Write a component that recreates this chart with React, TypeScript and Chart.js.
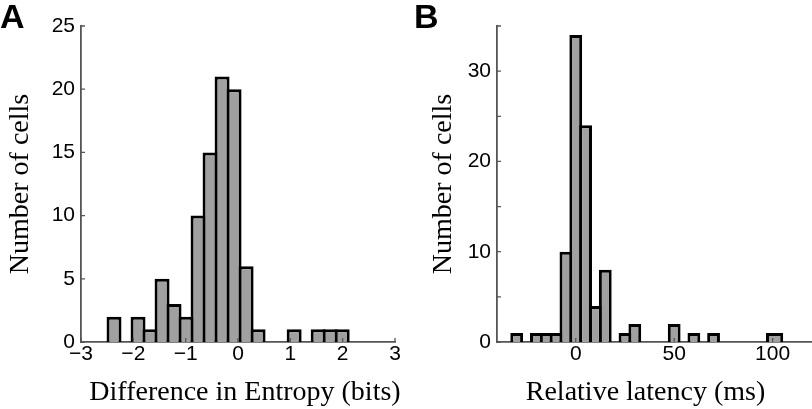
import React, { useEffect, useRef } from 'react';
import { Chart, registerables } from 'chart.js';

Chart.register(...registerables);

// ---- Panel A: Difference in Entropy (bits) ----
const entropyBinCenters = [
  -2.369, -2.140, -1.910, -1.681, -1.451, -1.222, -0.992, -0.763, -0.534, -0.304,
  -0.075, 0.155, 0.384, 0.614, 0.843, 1.073, 1.302, 1.532, 1.761, 1.991,
];
const entropyCounts = [2, 0, 2, 1, 5, 3, 2, 10, 15, 21, 20, 6, 1, 0, 0, 1, 0, 1, 1, 1];
const entropyXTicks = [-3, -2, -1, 0, 1, 2, 3];
const entropyYTicks = [0, 5, 10, 15, 20, 25];

// ---- Panel B: Relative latency (ms) ----
const latencyBinCenters = [-30, -20, -15, -10, -5, 0, 5, 10, 15, 25, 30, 50, 60, 70];
const latencyCounts = [1, 1, 1, 1, 10, 34, 24, 4, 8, 1, 2, 2, 1, 1];
const latencyWideBinCenters = [101];
const latencyWideCounts = [1];
const latencyXTicks = [0, 50, 100];
const latencyYTicks = [0, 5, 10, 15, 20, 25, 30, 35];
const latencyYLabelled = [0, 10, 20, 30];

const AXIS_COLOR = '#555555';
const BAR_FILL = '#a0a0a0';
const BAR_EDGE = '#000000';
const TICK_FONT = { family: "'Liberation Sans', Arial, Helvetica, sans-serif", size: 21 };
const TITLE_FAMILY = "'Liberation Serif', 'Times New Roman', serif";
const TITLE_FONT = { family: TITLE_FAMILY, size: 28 };

const fmt = (v: number) => (v < 0 ? '\u2212' + Math.abs(v) : String(v));

const inwardTicks = {
  id: 'inwardTicks',
  afterDraw(chart: any) {
    const { ctx, chartArea } = chart;
    const xs = chart.scales.x;
    const ys = chart.scales.y;
    ctx.save();
    ctx.strokeStyle = AXIS_COLOR;
    ctx.lineWidth = 1.3;
    ctx.beginPath();
    ys.ticks.forEach((t: any) => {
      const py = ys.getPixelForValue(t.value);
      ctx.moveTo(chartArea.left, py);
      ctx.lineTo(chartArea.left + 4, py);
    });
    xs.ticks.forEach((t: any) => {
      const px = xs.getPixelForValue(t.value);
      ctx.moveTo(px, chartArea.bottom);
      ctx.lineTo(px, chartArea.bottom - 4);
    });
    ctx.stroke();
    ctx.restore();
  },
};

function xTitlePlugin(text: string, dx: number) {
  return {
    id: 'xTitle',
    afterDraw(chart: any) {
      const { ctx, chartArea } = chart;
      ctx.save();
      ctx.font = `28px ${TITLE_FAMILY}`;
      ctx.fillStyle = '#000';
      ctx.textAlign = 'center';
      ctx.textBaseline = 'middle';
      ctx.fillText(text, (chartArea.left + chartArea.right) / 2 + dx, chart.height - 16.8);
      ctx.restore();
    },
  };
}

function toPoints(centers: number[], counts: number[]) {
  return centers.map((c, i) => ({ x: c, y: counts[i] })).filter((d) => d.y > 0);
}

function makeOptions(p: {
  xMin: number; xMax: number; yMax: number;
  xTicks: number[]; yTicks: number[];
  yLabel: (v: number) => string;
  yWidth: number; padRight: number;
}): any {
  return {
    responsive: false,
    animation: false,
    devicePixelRatio: 1,
    layout: { padding: { left: 0, right: p.padRight, top: 26, bottom: 0 } },
    plugins: { legend: { display: false }, tooltip: { enabled: false } },
    scales: {
      x: {
        type: 'linear',
        min: p.xMin,
        max: p.xMax,
        offset: false,
        z: 1,
        grid: { display: false, drawTicks: false },
        border: { display: true, color: AXIS_COLOR, width: 1.8 },
        afterBuildTicks: (s: any) => { s.ticks = p.xTicks.map((v) => ({ value: v })); },
        afterFit: (s: any) => { s.height = 67; },
        ticks: {
          font: TICK_FONT, color: '#000', padding: 0, maxRotation: 0, autoSkip: false,
          callback: (v: any) => fmt(Number(v)),
        },
        title: { display: false },
      },
      y: {
        type: 'linear',
        min: 0,
        max: p.yMax,
        grid: { display: false, drawTicks: false },
        border: { display: true, color: AXIS_COLOR, width: 1.8 },
        afterBuildTicks: (s: any) => { s.ticks = p.yTicks.map((v) => ({ value: v })); },
        afterFit: (s: any) => { s.width = p.yWidth; },
        ticks: {
          font: TICK_FONT, color: '#000', padding: 6, autoSkip: false,
          callback: (v: any) => p.yLabel(Number(v)),
        },
        title: {
          display: true, text: 'Number of cells', font: TITLE_FONT, color: '#000',
          padding: { top: 4, bottom: 0 },
        },
      },
    },
  };
}

export default function App() {
  const refA = useRef<HTMLCanvasElement>(null);
  const refB = useRef<HTMLCanvasElement>(null);

  useEffect(() => {
    const barCommon = {
      backgroundColor: BAR_FILL,
      borderColor: BAR_EDGE,
      borderWidth: 3,
      categoryPercentage: 1,
      grouped: false,
    };
    const chartA = new Chart(refA.current as HTMLCanvasElement, {
      type: 'bar',
      data: {
        datasets: [
          { ...barCommon, barPercentage: 1.25, data: toPoints(entropyBinCenters, entropyCounts) } as any,
        ],
      },
      options: makeOptions({
        xMin: -3, xMax: 3, yMax: 25,
        xTicks: entropyXTicks, yTicks: entropyYTicks,
        yLabel: (v) => fmt(v),
        yWidth: 81, padRight: 15,
      }),
      plugins: [inwardTicks, xTitlePlugin('Difference in Entropy (bits)', 7)],
    });
    const chartB = new Chart(refB.current as HTMLCanvasElement, {
      type: 'bar',
      data: {
        datasets: [
          { ...barCommon, barPercentage: 1.3, data: toPoints(latencyBinCenters, latencyCounts) } as any,
          { ...barCommon, barPercentage: 1.75, data: toPoints(latencyWideBinCenters, latencyWideCounts) } as any,
        ],
      },
      options: makeOptions({
        xMin: -40, xMax: 120, yMax: 35,
        xTicks: latencyXTicks, yTicks: latencyYTicks,
        yLabel: (v) => (latencyYLabelled.includes(v) ? String(v) : ''),
        yWidth: 74, padRight: 0,
      }),
      plugins: [inwardTicks, xTitlePlugin('Relative latency (ms)', -9)],
    });
    return () => {
      chartA.destroy();
      chartB.destroy();
    };
  }, []);

  const letter: React.CSSProperties = {
    position: 'absolute',
    top: -1,
    fontFamily: "'Liberation Sans', Arial, Helvetica, sans-serif",
    fontWeight: 'bold',
    fontSize: 34,
    lineHeight: '34px',
    color: '#000',
  };

  return (
    <div style={{ position: 'fixed', left: 0, top: 0, width: 812, height: 409, overflow: 'hidden', background: '#fff' }}>
      <canvas ref={refA} width={410} height={409} style={{ position: 'absolute', left: 0, top: 0 }} />
      <canvas ref={refB} width={389} height={409} style={{ position: 'absolute', left: 423, top: 0 }} />
      <div style={{ ...letter, left: 0 }}>A</div>
      <div style={{ ...letter, left: 414 }}>B</div>
    </div>
  );
}
